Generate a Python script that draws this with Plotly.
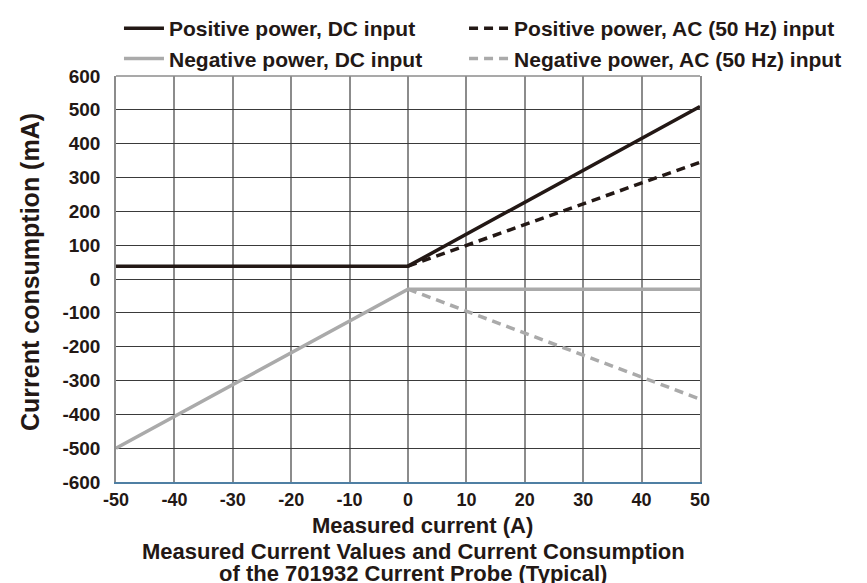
import plotly.graph_objects as go

# Data
pos_dc_x = [-50, 0, 50]
pos_dc_y = [38, 38, 510]
pos_ac_x = [0, 50]
pos_ac_y = [38, 345]
neg_dc_x = [-50, 0, 50]
neg_dc_y = [-500, -30, -30]
neg_ac_x = [0, 50]
neg_ac_y = [-30, -355]

x_ticks = list(range(-50, 51, 10))
y_ticks = list(range(-600, 601, 100))

BLACK = "#231815"
GRAY = "#aaaaaa"
FONT = "Liberation Sans, Arial, sans-serif"

fig = go.Figure()
fig.add_trace(go.Scatter(x=pos_dc_x, y=pos_dc_y, mode="lines", name="<b>Positive power, DC input</b>",
                         line=dict(color=BLACK, width=3.5), legend="legend"))
fig.add_trace(go.Scatter(x=neg_dc_x, y=neg_dc_y, mode="lines", name="<b>Negative power, DC input</b>",
                         line=dict(color=GRAY, width=3.5), legend="legend"))
fig.add_trace(go.Scatter(x=pos_ac_x, y=pos_ac_y, mode="lines", name="<b>Positive power, AC (50 Hz) input</b>",
                         line=dict(color=BLACK, width=3.5, dash="9px,6px"), legend="legend2"))
fig.add_trace(go.Scatter(x=neg_ac_x, y=neg_ac_y, mode="lines", name="<b>Negative power, AC (50 Hz) input</b>",
                         line=dict(color=GRAY, width=3.5, dash="9px,6px"), legend="legend2"))

legend_common = dict(orientation="v", yref="container", xref="container", y=1.008,
                     xanchor="left", yanchor="top", tracegroupgap=0, itemwidth=40,
                     font=dict(size=21, family=FONT, color=BLACK), bgcolor="rgba(0,0,0,0)")

fig.update_layout(
    width=867, height=583,
    margin=dict(l=108, r=175, t=68, b=109, autoexpand=False),
    paper_bgcolor="white", plot_bgcolor="white",
    font=dict(family=FONT, color=BLACK),
    showlegend=True,
    legend=dict(x=0.128, **legend_common),
    legend2=dict(x=0.526, **legend_common),
)
fig.update_xaxes(range=[-50, 50], tickvals=x_ticks, ticktext=[f"<b>{v}</b>" for v in x_ticks],
                 showgrid=True, gridcolor="#8c8c8c", gridwidth=1.5, zeroline=False,
                 showline=True, linecolor="#4f7fa3", linewidth=1.5, mirror=False,
                 ticks="", ticklabelstandoff=1, tickfont=dict(size=18, color=BLACK))
fig.update_yaxes(range=[-600, 600], tickvals=y_ticks, ticktext=[f"<b>{v}</b>" for v in y_ticks],
                 showgrid=True, gridcolor="#3a3a3a", gridwidth=1, zeroline=False,
                 showline=True, linecolor="#8c8c8c", linewidth=1.5, mirror=True,
                 ticks="", ticklabelstandoff=10, tickfont=dict(size=19, color=BLACK))
fig.add_shape(type="line", xref="paper", yref="paper", x0=0, x1=1, y0=1, y1=1,
              line=dict(color="#8c8c8c", width=1.5))

def py(pix):
    """pixel row -> paper y"""
    return (474 - pix) / 406

def px(pix):
    """pixel column -> paper x"""
    return (pix - 108) / 584

fig.add_annotation(text="<b>Current consumption (mA)</b>", xref="paper", yref="paper",
                   x=px(22), y=py(264), xanchor="center", yanchor="middle", textangle=-90,
                   showarrow=False, font=dict(size=25, color=BLACK))
fig.add_annotation(text="<b>Measured current (A)</b>", xref="paper", yref="paper",
                   x=px(414), y=py(517), xanchor="center", yanchor="middle",
                   showarrow=False, font=dict(size=22, color=BLACK))
fig.add_annotation(text="<b>Measured Current Values and Current Consumption</b>",
                   xref="paper", yref="paper", x=px(405), y=py(543), xanchor="center", yanchor="middle",
                   showarrow=False, font=dict(size=22, color=BLACK))
fig.add_annotation(text="<b>of the 701932 Current Probe (Typical)</b>",
                   xref="paper", yref="paper", x=px(405), y=py(565), xanchor="center", yanchor="middle",
                   showarrow=False, font=dict(size=22, color=BLACK))

fig.write_html("out.html")
